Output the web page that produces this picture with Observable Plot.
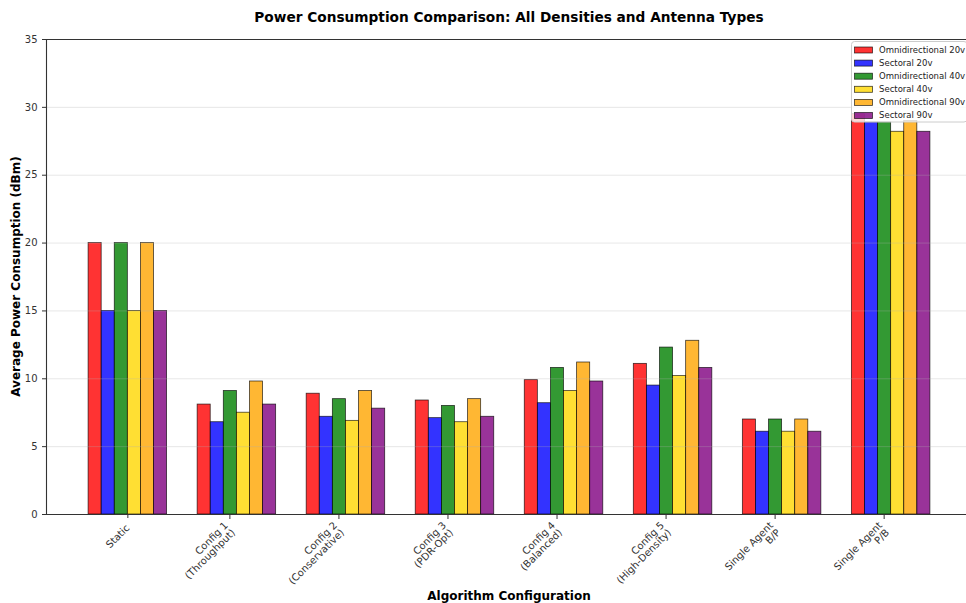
<!DOCTYPE html>
<html>
<head>
<meta charset="utf-8">
<script src="https://cdn.jsdelivr.net/npm/d3@7"></script>
<script src="https://cdn.jsdelivr.net/npm/@observablehq/plot@0.6"></script>
<style>
  html, body { margin: 0; padding: 0; background: #fff; overflow: hidden; }
  #chart { width: 966px; height: 603px; }
</style>
</head>
<body>
<div id="chart"></div>
<script>
// Algorithm configurations along the x axis
const categories = [
  "Static",
  "Config 1\n(Throughput)",
  "Config 2\n(Conservative)",
  "Config 3\n(PDR-Opt)",
  "Config 4\n(Balanced)",
  "Config 5\n(High-Density)",
  "Single Agent\nB/P",
  "Single Agent\nP/B"
];

// Density / antenna combinations
const seriesNames = [
  "Omnidirectional 20v",
  "Sectoral 20v",
  "Omnidirectional 40v",
  "Sectoral 40v",
  "Omnidirectional 90v",
  "Sectoral 90v"
];

// Average power consumption (dBm) per configuration
const omni20 = [20, 8.1, 8.9, 8.4, 9.9, 11.1, 7.0, 29.5];
const sect20 = [15, 6.8, 7.2, 7.1, 8.2, 9.5, 6.1, 28.9];
const omni40 = [20, 9.1, 8.5, 8.0, 10.8, 12.3, 7.0, 28.9];
const sect40 = [15, 7.5, 6.9, 6.8, 9.1, 10.2, 6.1, 28.2];
const omni90 = [20, 9.8, 9.1, 8.5, 11.2, 12.8, 7.0, 29.0];
const sect90 = [15, 8.1, 7.8, 7.2, 9.8, 10.8, 6.1, 28.2];

const yTicks = [0, 5, 10, 15, 20, 25, 30, 35];

// Styling
const palette = ["#ff0000", "#0000ff", "#008000", "#ffd700", "#ffa500", "#800080"];
const seriesValues = [omni20, sect20, omni40, sect40, omni90, sect90];

// Long table: one row per bar
const rows = seriesNames.flatMap((name, s) =>
  seriesValues[s].map((value, c) => ({category: c, s, series: name, value}))
);

// Grouped bar geometry in category units
const barWidth = 0.12;
const nS = seriesNames.length;
const center = (d) => d.category + (d.s - (nS - 1) / 2) * barWidth;
const lo = -(nS / 2) * barWidth;
const hi = categories.length - 1 + (nS / 2) * barWidth;
const pad = (hi - lo) * 0.05;
const xDomain = [lo - pad, hi + pad];

const W = 966, H = 603;
const mL = 46, mT = 39, mB = 89;
const axisRight = 972; // the right edge of the axes runs just past the page

const font = "'DejaVu Sans', Verdana, sans-serif";

// Single-line and two-line tick labels are anchored slightly differently
const tickIdx = d3.range(categories.length);
const oneLine = tickIdx.filter((i) => !categories[i].includes("\n"));
const twoLine = tickIdx.filter((i) => categories[i].includes("\n"));
const tickOpts = {
  tickFormat: (i) => categories[i],
  tickRotate: -45,
  tickSize: 4,
  stroke: "#333",
  fill: "#333",
  label: null
};

const plot = Plot.plot({
  width: W,
  height: H,
  marginLeft: mL,
  marginTop: mT,
  marginBottom: mB,
  marginRight: 0,
  style: {fontFamily: font, fontSize: "10px", color: "#333", background: "white", overflow: "hidden"},
  x: {domain: xDomain, range: [mL, axisRight]},
  y: {domain: [0, 35], ticks: yTicks, tickSize: 4, label: null},
  color: {domain: seriesNames, range: palette},
  marks: [
    Plot.rect(rows, {
      x1: (d) => center(d) - barWidth / 2,
      x2: (d) => center(d) + barWidth / 2,
      y1: 0,
      y2: "value",
      fill: "series",
      fillOpacity: 0.8,
      stroke: "black",
      strokeOpacity: 0.75,
      strokeWidth: 0.8
    }),
    Plot.ruleY(yTicks.slice(1, -1), {stroke: "#b0b0b0", strokeOpacity: 0.3}),
    Plot.ruleY([0, 35], {stroke: "#333", strokeWidth: 1.1}),
    Plot.ruleX([xDomain[0]], {stroke: "#333", strokeWidth: 1.1}),
    Plot.axisX(oneLine, {...tickOpts}),
    Plot.axisX(twoLine, {...tickOpts, dx: -7, dy: 1})
  ]
});

document.getElementById("chart").appendChild(plot);

// Titles and legend
const svg = d3.select(plot);
const midX = (mL + axisRight) / 2;
const midY = (mT + (H - mB)) / 2;

svg.append("text")
  .attr("x", midX).attr("y", 22)
  .attr("text-anchor", "middle")
  .attr("font-family", font).attr("font-size", 13.7).attr("font-weight", "bold")
  .attr("fill", "#000")
  .text("Power Consumption Comparison: All Densities and Antenna Types");

svg.append("text")
  .attr("x", midX).attr("y", 600)
  .attr("text-anchor", "middle")
  .attr("font-family", font).attr("font-size", 12).attr("font-weight", "bold")
  .attr("fill", "#000")
  .text("Algorithm Configuration");

svg.append("text")
  .attr("transform", `translate(20,${midY}) rotate(-90)`)
  .attr("text-anchor", "middle")
  .attr("font-family", font).attr("font-size", 12).attr("font-weight", "bold")
  .attr("fill", "#000")
  .text("Average Power Consumption (dBm)");

const legend = svg.append("g");
const lgLeft = 851.5, lgTop = 41.5, rowH = 13.1;
legend.append("rect")
  .attr("x", lgLeft).attr("y", lgTop)
  .attr("width", axisRight - 5 - lgLeft).attr("height", 80.5)
  .attr("rx", 3)
  .attr("fill", "white").attr("fill-opacity", 0.8)
  .attr("stroke", "#cccccc");

seriesNames.forEach((name, i) => {
  const cy = lgTop + 8.5 + i * rowH;
  legend.append("rect")
    .attr("x", lgLeft + 3).attr("y", cy - 3)
    .attr("width", 18).attr("height", 6)
    .attr("fill", palette[i]).attr("fill-opacity", 0.8)
    .attr("stroke", "black").attr("stroke-opacity", 0.75).attr("stroke-width", 0.8);
  legend.append("text")
    .attr("x", lgLeft + 27.5).attr("y", cy)
    .attr("dy", "0.35em")
    .attr("text-anchor", "start")
    .attr("font-family", font).attr("font-size", 8.5)
    .attr("fill", "#222")
    .text(name);
});
</script>
</body>
</html>
